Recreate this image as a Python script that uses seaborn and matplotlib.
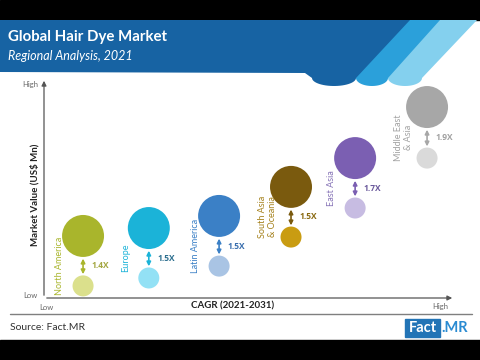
import numpy as np
import pandas as pd
import matplotlib
matplotlib.use('Agg')
import matplotlib.pyplot as plt
import seaborn as sns
from matplotlib.patches import Polygon, Rectangle

sns.set_style('white')
plt.rcParams['font.family'] = ['Lato', 'DejaVu Sans']

# data (relative position, 0-100)
regions = ['North America', 'Europe', 'Latin America', 'South Asia\n& Oceania', 'East Asia', 'Middle East\n& Asia']
cagr = [9.5, 25.5, 42.6, 60.1, 75.7, 93.2]
value_2031 = [28.2, 31.8, 37.3, 50.5, 63.6, 86.8]
value_2021 = [5.5, 9.1, 14.5, 27.7, 40.9, 63.6]
growth = ['1.4X', '1.5X', '1.5X', '1.5X', '1.7X', '1.9X']

big_colors = ['#a9b52c', '#1bb3d8', '#3b80c6', '#7a5a0e', '#7b5fb2', '#a7a7a7']
small_colors = ['#dbe08c', '#93e1f5', '#a9c4e4', '#c99c12', '#c7bce2', '#dadada']
label_colors = ['#a9b52c', '#1bb3d8', '#3b80c6', '#a5811c', '#8572b6', '#a2a2a2']
mult_colors = ['#a3a640', '#2d6f8f', '#3a6fae', '#8a6a12', '#6b5a9c', '#a2a2a2']

df = pd.DataFrame({'region': regions, 'cagr': cagr, 'v31': value_2031, 'v21': value_2021})

fig = plt.figure(figsize=(4.8, 3.6), dpi=100)

# background / decoration layer in pixel coords
bg = fig.add_axes([0, 0, 1, 1])
bg.set_xlim(0, 480)
bg.set_ylim(360, 0)
bg.axis('off')
bg.add_patch(Rectangle((0, 0), 480, 20, color='black'))
bg.add_patch(Rectangle((0, 340), 480, 20, color='black'))


def blob(x_left_bot, x_right_bot, x_right_top, tail, color):
    # slanted stripe with a rounded bottom end
    t = np.linspace(0, np.pi, 30)
    xc = (x_left_bot + x_right_bot) / 2
    a = (x_right_bot - x_left_bot) / 2
    arc = [(xc + a * np.cos(s), 78 + 8 * np.sin(s)) for s in t]
    pts = [(x_right_top - 80, 20), (x_right_top, 20)] + arc + tail
    bg.add_patch(Polygon(pts, closed=True, color=color, lw=0))


blob(388, 422, 477, [(372, 78)], '#84d0ee')
blob(356, 388, 440, [(338, 78)], '#2ba0da')
blob(312, 356, 410, [(305, 73), (0, 72), (0, 20)], '#1763a3')

bg.text(8, 37, 'Global Hair Dye Market', color='white', fontsize=10.8, fontweight='bold', va='center')
bg.text(8, 56, 'Regional Analysis, 2021', color='white', fontsize=9, style='italic', va='center')

bg.plot([10, 472], [314, 314], color='#7f7f7f', lw=1)
bg.text(10, 327, 'Source: Fact.MR', color='#333333', fontsize=7.5, va='center')
bg.add_patch(Rectangle((405, 319), 35, 18, color='#2274b6'))
bg.text(422.5, 328, 'Fact', color='white', fontsize=10.5, fontweight='bold', ha='center', va='center')
bg.text(441, 328, '.MR', color='#2a8bd2', fontsize=10.5, fontweight='bold', ha='left', va='center')

bg.text(38, 85, 'High', color='#666666', fontsize=5.5, ha='right', va='center')
bg.text(38, 295, 'Low', color='#666666', fontsize=5.5, ha='right', va='center')
bg.text(46, 307, 'Low', color='#666666', fontsize=5.5, ha='center', va='center')
bg.text(440, 307, 'High', color='#666666', fontsize=5.5, ha='center', va='center')
bg.text(233, 306, 'CAGR (2021-2031)', color='#222222', fontsize=7, fontweight='bold', ha='center', va='center')
bg.text(35, 195, 'Market Value (US$ Mn)', color='#222222', fontsize=7, fontweight='bold',
        ha='center', va='center', rotation=90)

# chart layer
ax = fig.add_axes([44 / 480, 62 / 360, 411 / 480, 220 / 360])
ax.patch.set_alpha(0)
ax.set_xlim(0, 100)
ax.set_ylim(0, 100)
ax.axis('off')

for frac in [(0, 1.0), (1.0, 0)]:
    ax.annotate('', xy=frac, xytext=(0, 0), xycoords='axes fraction',
                arrowprops=dict(arrowstyle='-|>', color='#555555', lw=0.9, mutation_scale=7))

sns.scatterplot(data=df, x='cagr', y='v31', hue='region', palette=big_colors, s=914,
                linewidth=0, legend=False, ax=ax, clip_on=False, zorder=3)
sns.scatterplot(data=df, x='cagr', y='v21', hue='region', palette=small_colors, s=229,
                linewidth=0, legend=False, ax=ax, clip_on=False, zorder=3)

for i, r in enumerate(regions):
    x = cagr[i]
    top = value_2031[i] - 10.3
    bot = value_2021[i] + 5.3
    ax.annotate('', xy=(x, bot), xytext=(x, top),
                arrowprops=dict(arrowstyle='<|-|>', color=big_colors[i], lw=1.2, mutation_scale=6,
                                shrinkA=0, shrinkB=0))
    mid = (value_2031[i] + value_2021[i]) / 2
    ax.annotate(growth[i], xy=(x, mid), xytext=(6, -3.6), textcoords='offset points',
                color=mult_colors[i], fontsize=6, fontweight='bold', ha='left', va='center',
                family=['Open Sans', 'DejaVu Sans'])
    ax.annotate(r, xy=(x, mid), xytext=(-17, -3.6), textcoords='offset points',
                color=label_colors[i], fontsize=6.5, ha='center', va='center', rotation=90,
                multialignment='center', linespacing=1.1)

fig.savefig('out.png', dpi=100)
